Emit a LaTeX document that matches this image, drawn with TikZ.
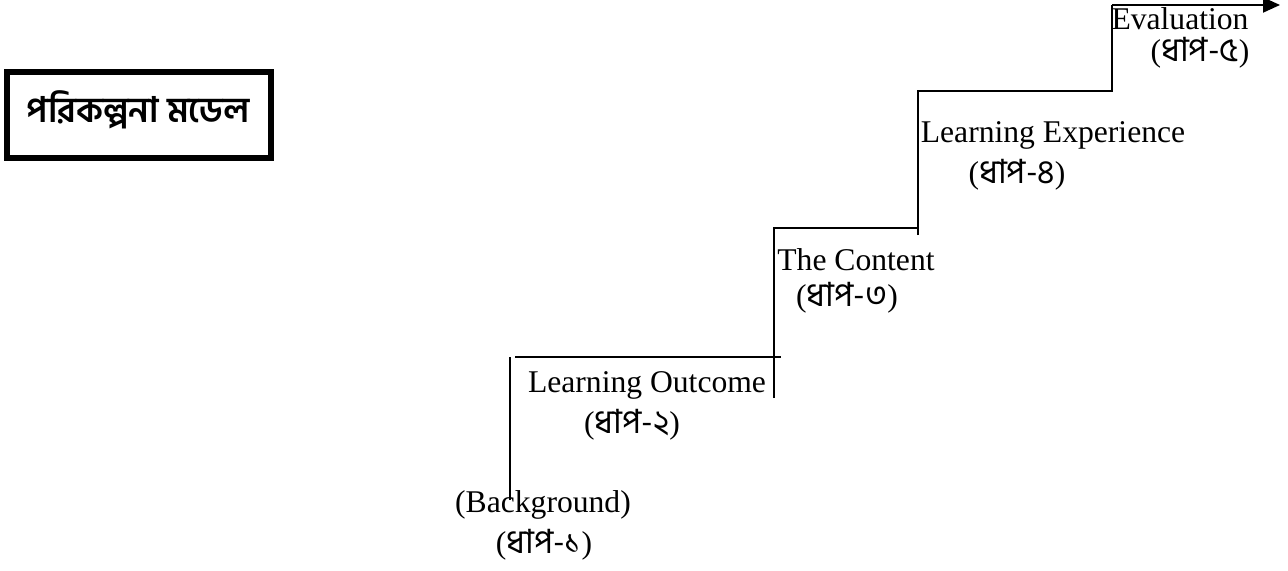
\documentclass[tikz,border=0pt]{standalone}
\usepackage{fontspec}
\usepackage{tikz}
\usetikzlibrary{arrows.meta}
\setmainfont{Liberation Serif}
\newfontfamily\bnfont[Script=Bengali]{Hind Siliguri}
\tikzset{
	lbl/.style={inner sep=0pt,font=\fontsize{18}{20}\selectfont},
	dhap/.style={inner sep=0pt,font=\fontsize{18}{20}\selectfont},
	stair/.style={line width=1.1pt},
	titlebox/.style={draw,line width=0.12cm,minimum width=5.28cm,minimum height=1.72cm,inner sep=0pt}
}
\newcommand{\dhapno}[1]{({\bnfont\fontsize{19}{20}\selectfont ধাপ-#1})}

\begin{document}
\begin{tikzpicture}[x=0.02cm,y=-0.02cm]
	\useasboundingbox (0,0) rectangle (1288,571);
	\node [titlebox] (title) at (139,115) {};
	\node [font=\bnfont\bfseries\fontsize{20}{24}\selectfont] (titletext) at (138,110) {পরিকল্পনা মডেল};

	% staircase
	\coordinate (a1) at (510,500);
	\coordinate (a2) at (510,357);
	\coordinate (b1) at (515,357);
	\coordinate (b2) at (781,357);
	\coordinate (c1) at (774,398);
	\coordinate (c2) at (774,228);
	\coordinate (c3) at (918,228);
	\coordinate (d1) at (918,235);
	\coordinate (d2) at (918,91);
	\coordinate (d3) at (1112,91);
	\coordinate (e1) at (1112,5);
	\coordinate (e2) at (1280,5);
	\draw [stair] (a1) -- (a2);
	\draw [stair] (b1) -- (b2);
	\draw [stair] (c1) -- (c2) -- (c3);
	\draw [stair] (d1) -- (d2) -- (d3) -- (e1);
	\draw [stair,-{Triangle[length=0.34cm,width=0.3cm]}] (e1) -- (e2);

	% steps
	\node [lbl] (bg) at (543,505) {(Background)};
	\node [dhap] (s1) at (544,545) {\dhapno{১}};
	\node [lbl] (lo) at (647,385) {Learning Outcome};
	\node [dhap] (s2) at (632,425) {\dhapno{২}};
	\node [lbl] (tc) at (856,260) {The Content};
	\node [dhap] (s3) at (847,298) {\dhapno{৩}};
	\node [lbl] (le) at (1053,135) {Learning Experience};
	\node [dhap] (s4) at (1017,175) {\dhapno{৪}};
	\node [lbl] (ev) at (1180,19) {Evaluation};
	\node [dhap] (s5) at (1200,53) {\dhapno{৫}};
\end{tikzpicture}
\end{document}
